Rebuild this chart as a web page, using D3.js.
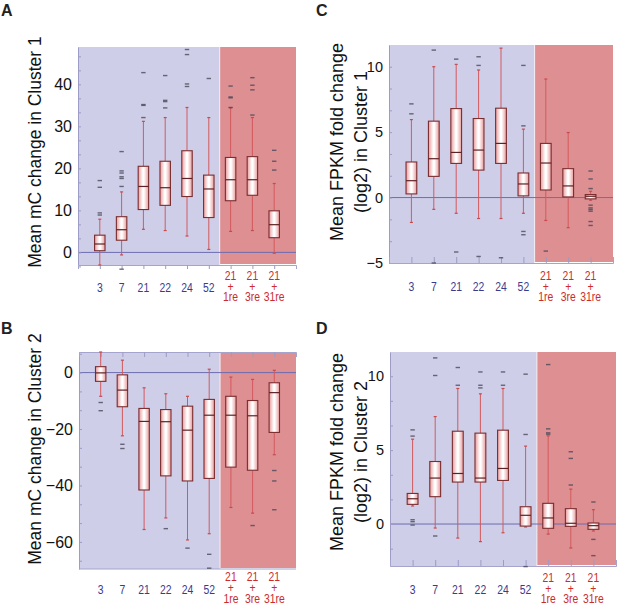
<!DOCTYPE html>
<html>
<head>
<meta charset="utf-8">
<script src="https://cdn.jsdelivr.net/npm/d3@7"></script>
<style>
  body { margin: 0; background: #fff; }
  svg text { font-family: "Liberation Sans", Arial, sans-serif; }
</style>
</head>
<body>
<div id="chart"></div>
<script>
// categories (days / re-treatment) shared by all four panels
const categories = ['3', '7', '21', '22', '24', '52', '21+1re', '21+3re', '21+31re'];
const catLines = [['3'], ['7'], ['21'], ['22'], ['24'], ['52'], ['21', '+', '1re'], ['21', '+', '3re'], ['21', '+', '31re']];

// A: mean mC change, cluster 1
const aLow = [-3.0, -0.6, 5.5, 5.2, 3.9, 0.7, 5.0, 5.2, -0.2];
const aQ1 = [0.4, 2.9, 10.2, 11.2, 13.3, 8.3, 12.3, 13.6, 3.5];
const aMed = [2.0, 5.4, 15.7, 15.4, 17.6, 15.1, 17.3, 17.3, 6.6];
const aQ3 = [4.1, 8.5, 20.5, 21.7, 24.2, 18.4, 22.6, 22.8, 9.9];
const aHigh = [7.9, 14.4, 31.2, 32.1, 34.5, 32.1, 34.4, 32.1, 16.4];
const aOut = [[8.9, 9.4, 15.5, 17.1], [-4.0, 15.7, 17.6, 18.0, 18.9, 19.4, 24.0], [32.1, 35.0, 35.2, 42.8],
  [34.4, 35.9, 36.2, 42.1], [39.5, 40.1, 47.1, 48.3], [41.4], [34.5, 36.8, 37.0, 39.6], [32.7, 38.7, 39.8, 41.6], [19.6, 21.7, 24.3]];

// B: mean mC change, cluster 2
const bLow = [-8.4, -22.4, -55.6, -51.5, -59.3, -57.1, -47.8, -49.8, -29.1];
const bQ1 = [-3.1, -12.1, -41.6, -36.6, -38.4, -37.5, -33.5, -34.6, -21.2];
const bMed = [-0.1, -6.2, -17.3, -17.4, -20.4, -15.1, -15.1, -15.3, -7.1];
const bQ3 = [2.1, -0.8, -12.7, -13.1, -11.9, -9.5, -8.4, -9.9, -3.6];
const bHigh = [7.3, 4.4, -5.4, -7.5, -8.4, 1.2, -1.6, -2.4, 0.8];
const bOut = [[-10.6, -13.5], [-25.4, -26.9], [], [-55.3], [-62.2], [-64.4, -69.3], [], [-54.2], [-34.7, -38.4, -48.6]];

// C: FPKM fold change (log2), cluster 1
const cLow = [-1.9, -0.9, -1.2, -1.6, -1.6, -1.2, -1.75, -2.3, -0.2];
const cQ1 = [0.28, 1.62, 2.61, 2.1, 2.61, 0.13, 0.58, 0.05, -0.1];
const cMed = [1.29, 2.97, 3.45, 3.63, 4.14, 1.04, 2.64, 0.89, 0.1];
const cQ3 = [2.72, 5.84, 6.8, 6.04, 6.83, 1.88, 4.14, 2.21, 0.23];
const cHigh = [5.96, 10.0, 10.18, 9.75, 11.42, 5.23, 9.06, 4.97, 0.48];
const cOut = [[6.4, 7.16], [11.27, -5.0], [10.58, -4.16], [10.1, 10.76, -4.5], [-4.6], [5.48, 10.1, -2.59, -2.84],
  [-4.09], [], [2.03, 1.42, 0.69, -0.58, -0.79, -0.91, -1.04, -1.83, -2.13]];

// D: FPKM fold change (log2), cluster 2
const dLow = [1.22, -0.27, -0.95, -1.19, -0.59, -0.2, -0.68, -1.62, -0.47];
const dQ1 = [1.33, 1.85, 2.84, 2.84, 2.95, -0.14, -0.29, -0.16, -0.36];
const dMed = [1.71, 3.11, 3.42, 3.11, 3.76, 0.59, 0.41, 0.05, -0.11];
const dQ3 = [2.07, 4.23, 6.28, 6.15, 6.35, 1.17, 1.4, 1.04, 0.07];
const dHigh = [5.74, 7.27, 9.17, 8.81, 9.17, 5.27, 5.97, 2.36, 0.97];
const dOut = [[5.95, 6.37, 0.29, 0.16, -0.07], [10.05, 11.24, -0.81], [9.39, 10.59], [9.21, 9.39, 10.29], [9.39, 10.29],
  [6.06, 10.14, -2.88], [6.08, 6.17, 6.44, 10.79], [2.64, 4.44, 4.89], [1.49, -1.04, -2.14]];

const yTicksA = [0, 10, 20, 30, 40];
const yTicksB = [0, -20, -40, -60];
const yTicksC = [-5, 0, 5, 10];
const yTicksD = [0, 5, 10];

const svg = d3.select('#chart').append('svg')
  .attr('width', 617)
  .attr('height', 604);

const defs = svg.append('defs');
const grad = defs.append('linearGradient').attr('id', 'boxFill').attr('x1', '0%').attr('x2', '100%');
grad.append('stop').attr('offset', '0%').attr('stop-color', '#e89a9b');
grad.append('stop').attr('offset', '45%').attr('stop-color', '#ffffff');
grad.append('stop').attr('offset', '55%').attr('stop-color', '#ffffff');
grad.append('stop').attr('offset', '100%').attr('stop-color', '#e89a9b');

const makeRows = (low, q1, med, q3, high, out) =>
  categories.map((c, i) => ({ cat: c, low: low[i], q1: q1[i], med: med[i], q3: q3[i], high: high[i], out: out[i] }));

const drawPanel = (p) => {
  const x = d3.scalePoint().domain(categories).range([p.left, p.right]).padding(1);
  const y = d3.scaleLinear().domain(p.domain).range([p.bottom, p.top]);
  const step = x.step();
  const boxW = step * 0.48;
  const split = (x('52') + x('21+1re')) / 2;
  const g = svg.append('g');

  // treatment backgrounds
  g.append('rect')
    .attr('x', p.left).attr('y', p.top)
    .attr('width', split - p.left).attr('height', p.bottom - p.top)
    .attr('fill', '#cecee8');
  g.append('rect')
    .attr('x', split).attr('y', p.top)
    .attr('width', p.right - split).attr('height', p.bottom - p.top - 1)
    .attr('fill', '#dd8f92');
  g.append('line')
    .attr('x1', split).attr('x2', split).attr('y1', p.top).attr('y2', p.bottom)
    .attr('stroke', '#f4eef4').attr('stroke-width', 1);

  // zero line
  g.append('line')
    .attr('x1', p.left).attr('x2', p.right)
    .attr('y1', y(0)).attr('y2', y(0))
    .attr('stroke', '#6c6cb0').attr('stroke-width', 1);

  // y axis: labels + inward minor ticks
  const yAxis = g.append('g')
    .attr('transform', `translate(${p.left},0)`)
    .call(d3.axisLeft(y).tickValues(p.ticks).tickSize(0).tickPadding(6).tickFormat(d3.format('d')));
  yAxis.select('.domain').attr('stroke', '#9c9cc6');
  yAxis.selectAll('text').attr('font-size', p.tickFont).attr('fill', '#111')
    .style('font-family', '"Liberation Sans", Arial, sans-serif');

  const minor = d3.range(p.minorStart, p.domain[1], p.minorStep);
  g.append('g')
    .attr('transform', `translate(${p.left},0)`)
    .call(d3.axisRight(y).tickValues(minor).tickSize(3).tickFormat(''))
    .call(a => a.select('.domain').remove())
    .selectAll('line').attr('stroke', '#9c9cc6');

  // x axis ticks
  const xAxisGen = p.xTop ? d3.axisTop(x) : d3.axisBottom(x);
  const xAxis = g.append('g')
    .attr('transform', `translate(0,${p.xTop ? p.top : p.bottom})`)
    .call(xAxisGen.tickSize(p.xTick).tickFormat(''));
  xAxis.select('.domain').attr('stroke', '#a4a4cc');
  xAxis.selectAll('line').attr('stroke', '#9c9cc6');
  if (p.xTop) {
    g.append('line').attr('x1', p.left).attr('x2', p.right).attr('y1', p.bottom).attr('y2', p.bottom)
      .attr('stroke', '#a4a4cc');
  }

  // x labels, narrow like the original
  const lab = g.selectAll('.xlab').data(categories).enter().append('text')
    .attr('class', 'xlab')
    .attr('transform', d => `translate(${x(d)},0) scale(0.8,1)`)
    .attr('text-anchor', 'middle')
    .attr('font-size', 13)
    .attr('fill', (d, i) => catLines[i].length > 1 ? '#cc2b2b' : '#3a3a8e');
  lab.each(function (d, i) {
    const lines = catLines[i];
    const t = d3.select(this);
    lines.forEach((ln, j) => {
      const yy = lines.length > 1 ? p.bottom + p.redOff + j * 10.6 : p.bottom + p.blueOff;
      t.append('tspan').attr('x', 0).attr('y', yy).text(ln);
    });
  });

  // boxes
  const box = g.selectAll('.box').data(p.rows).enter().append('g').attr('class', 'box');
  box.append('line')
    .attr('x1', d => x(d.cat)).attr('x2', d => x(d.cat))
    .attr('y1', d => y(d.low)).attr('y2', d => y(d.high))
    .attr('stroke', '#d25a5e').attr('stroke-width', 1);
  box.append('line')
    .attr('x1', d => x(d.cat) - 1.5).attr('x2', d => x(d.cat) + 1.5)
    .attr('y1', d => y(d.high)).attr('y2', d => y(d.high))
    .attr('stroke', '#c84a4e').attr('stroke-width', 1.2);
  box.append('line')
    .attr('x1', d => x(d.cat) - 1.5).attr('x2', d => x(d.cat) + 1.5)
    .attr('y1', d => y(d.low)).attr('y2', d => y(d.low))
    .attr('stroke', '#c84a4e').attr('stroke-width', 1.2);
  box.append('rect')
    .attr('x', d => x(d.cat) - boxW / 2)
    .attr('y', d => y(d.q3))
    .attr('width', boxW)
    .attr('height', d => Math.max(1, y(d.q1) - y(d.q3)))
    .attr('fill', 'url(#boxFill)')
    .attr('stroke', '#7a2e30').attr('stroke-width', 1.1);
  box.append('line')
    .attr('x1', d => x(d.cat) - boxW / 2).attr('x2', d => x(d.cat) + boxW / 2)
    .attr('y1', d => y(d.med)).attr('y2', d => y(d.med))
    .attr('stroke', '#5e2224').attr('stroke-width', 1.2);
  box.selectAll('.out').data(d => d.out.map(v => ({ cat: d.cat, v }))).enter().append('line')
    .attr('class', 'out')
    .attr('x1', d => x(d.cat) - 2.2).attr('x2', d => x(d.cat) + 2.2)
    .attr('y1', d => y(d.v)).attr('y2', d => y(d.v))
    .attr('stroke', '#4a4a5a').attr('stroke-width', 1.4).attr('opacity', 0.8);

  // y label
  const yl = g.append('text')
    .attr('transform', `translate(${p.labelX},${p.labelY}) rotate(-90)`)
    .attr('text-anchor', 'middle')
    .attr('font-size', p.labelFont)
    .attr('fill', '#111');
  p.label.forEach((ln, j) => {
    yl.append('tspan').attr('x', 0).attr('y', j * 24).text(ln);
  });

  // panel letter
  svg.append('text')
    .attr('x', p.letterX).attr('y', p.letterY)
    .attr('font-size', 16).attr('font-weight', 'bold').attr('fill', '#222')
    .text(p.letter);
};

drawPanel({
  letter: 'A', letterX: 1, letterY: 16,
  left: 78, right: 296, top: 47, bottom: 265,
  domain: [-3.0, 48.9], ticks: yTicksA, minorStart: -10 / 3, minorStep: 10 / 3, tickFont: 16,
  xTick: 4, xTop: false, redOff: 15, blueOff: 27.5,
  label: ['Mean mC change in Cluster 1'], labelX: 41, labelY: 152, labelFont: 17.5,
  rows: makeRows(aLow, aQ1, aMed, aQ3, aHigh, aOut)
});
drawPanel({
  letter: 'B', letterX: 1, letterY: 334,
  left: 79, right: 296, top: 352, bottom: 569,
  domain: [-69.6, 7.3], ticks: yTicksB, minorStart: -20 * 10 / 3, minorStep: 20 / 3, tickFont: 16,
  xTick: -5, xTop: true, redOff: 12.5, blueOff: 25,
  label: ['Mean mC change in Cluster 2'], labelX: 41, labelY: 449, labelFont: 17.5,
  rows: makeRows(bLow, bQ1, bMed, bQ3, bHigh, bOut)
});
drawPanel({
  letter: 'C', letterX: 316, letterY: 16,
  left: 389, right: 613, top: 45, bottom: 263,
  domain: [-5, 11.66], ticks: yTicksC, minorStart: -5, minorStep: 5 / 3, tickFont: 14.5,
  xTick: -6, xTop: false, redOff: 17, blueOff: 28,
  label: ['Mean FPKM fold change', '(log2) in Cluster 1'], labelX: 343, labelY: 142, labelFont: 18,
  rows: makeRows(cLow, cQ1, cMed, cQ3, cHigh, cOut)
});
drawPanel({
  letter: 'D', letterX: 316, letterY: 334,
  left: 390, right: 616, top: 352, bottom: 566,
  domain: [-2.84, 11.64], ticks: yTicksD, minorStart: -5 / 3, minorStep: 5 / 3, tickFont: 14.5,
  xTick: -6, xTop: false, redOff: 16, blueOff: 28,
  label: ['Mean FPKM fold change', '(log2) in Cluster 2'], labelX: 343, labelY: 452, labelFont: 18,
  rows: makeRows(dLow, dQ1, dMed, dQ3, dHigh, dOut)
});
</script>
</body>
</html>
